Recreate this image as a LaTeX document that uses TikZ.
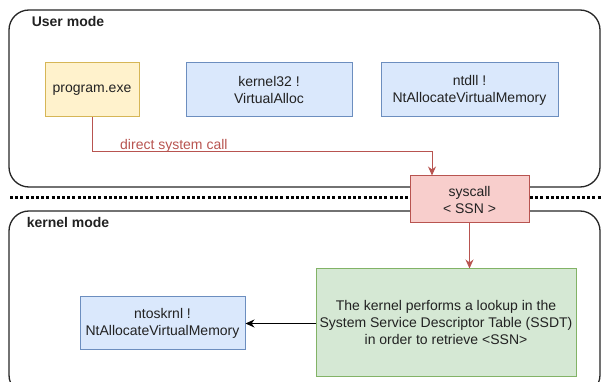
\documentclass[tikz,border=0pt]{standalone}
\usepackage{fontspec}
\setmainfont{Liberation Sans}
\usetikzlibrary{arrows.meta,calc}
\definecolor{yfill}{HTML}{FFF2CC}\definecolor{ydraw}{HTML}{D6B656}
\definecolor{bfill}{HTML}{DAE8FC}\definecolor{bdraw}{HTML}{6C8EBF}
\definecolor{rfill}{HTML}{F8CECC}\definecolor{rdraw}{HTML}{B85450}
\definecolor{gfill}{HTML}{D5E8D4}\definecolor{gdraw}{HTML}{82B366}
\definecolor{txt}{HTML}{222222}
\begin{document}
\begin{tikzpicture}[x=1pt,y=-1pt,
  font=\fontsize{14}{17}\selectfont,
  box/.style={draw, line width=1pt, align=center, text=txt, inner sep=0pt},
  ybox/.style={box, fill=yfill, draw=ydraw},
  bbox/.style={box, fill=bfill, draw=bdraw},
  rbox/.style={box, fill=rfill, draw=rdraw},
  gbox/.style={box, fill=gfill, draw=gdraw},
  region/.style={draw=black!85, line width=1.3pt, rounded corners=20pt},
  title/.style={font=\fontsize{14}{17}\selectfont\bfseries, text=txt, inner sep=0pt},
  redarrow/.style={draw=rdraw, line width=1pt, -{Stealth[length=9pt,width=8pt]}},
  blackarrow/.style={draw=black, line width=1pt, -{Stealth[length=9pt,width=8pt]}}
]
\useasboundingbox (0,0) rectangle (603,382);
\begin{scope}
\clip (0,0) rectangle (603,382);
% regions
\draw[region] (9,10) rectangle (600,187);
\draw[region] (9,211) rectangle (600,395);
\end{scope}
\draw[line width=3pt, dash pattern=on 3pt off 2.2pt, draw=black] (10,198) -- (603,198);
\node[title] (um) at (68,21) {User mode};
\node[title] (km) at (68,222) {kernel mode};

% nodes
\node[ybox, minimum width=94pt, minimum height=54pt] (prog) at (92,90) {program.exe};
\node[bbox, minimum width=166pt, minimum height=54pt] (k32) at (269,90) {kernel32 !\\VirtualAlloc};
\node[bbox, minimum width=177pt, minimum height=54pt] (ntdll) at (469.5,90) {ntdll !\\NtAllocateVirtualMemory};
\node[rbox, minimum width=119pt, minimum height=47pt] (sys) at (469.5,199.5) {syscall\\\textless{} SSN \textgreater};
\node[gbox, minimum width=260pt, minimum height=107pt] (ssdt) at (446,322.5) {The kernel performs a lookup in the\\System Service Descriptor Table (SSDT)\\in order to retrieve \textless SSN\textgreater};
\node[bbox, minimum width=165pt, minimum height=53pt] (ntos) at (162.5,323.5) {ntoskrnl !\\NtAllocateVirtualMemory};

% connectors
\coordinate (bend) at (432,152);
\draw[redarrow] (prog.south) |- (bend) -- (bend |- sys.north);
\node[text=rdraw, inner sep=0pt, anchor=base west] (lbl) at (120,150) {direct system call};
\draw[redarrow] (sys.south) -- (sys.south |- ssdt.north);
\draw[blackarrow] (ssdt.west |- ntos.east) -- (ntos.east);
\end{tikzpicture}
\end{document}
